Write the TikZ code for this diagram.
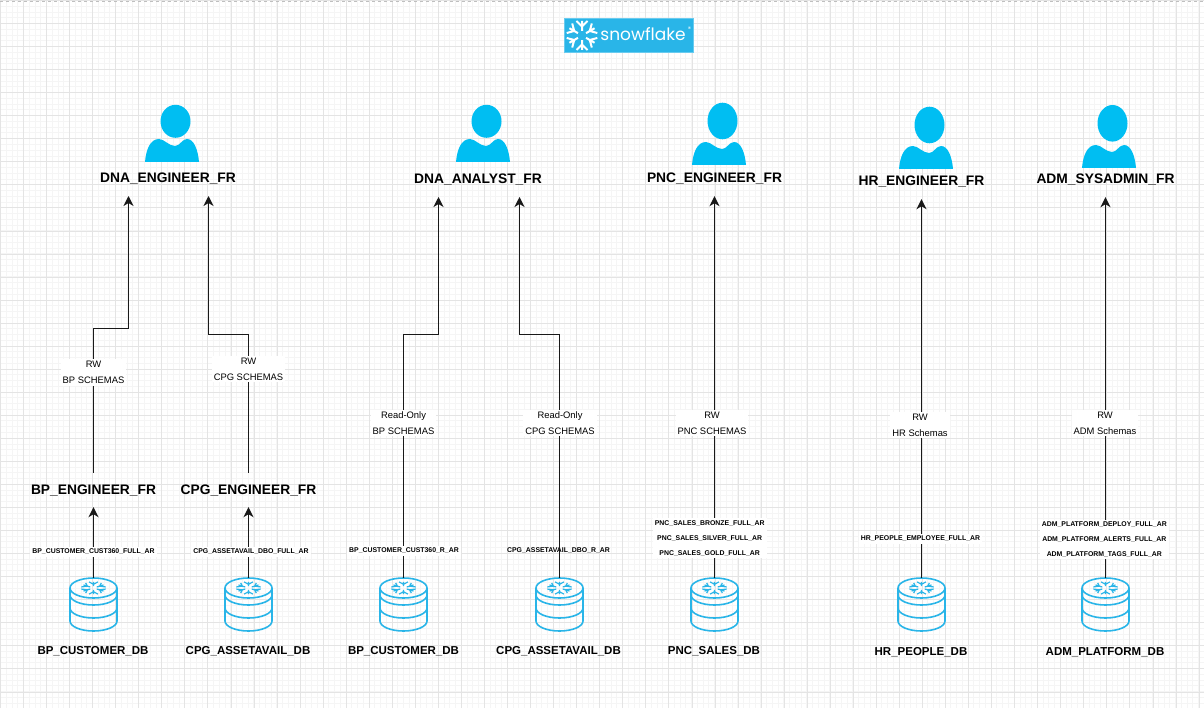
\documentclass[tikz,border=0pt]{standalone}
\usepackage{fontspec}
\setmainfont{Liberation Sans}
\newfontfamily\logofont{Poppins}
\usetikzlibrary{arrows.meta}
\definecolor{iconBlue}{HTML}{00BEF2}
\definecolor{snowBlue}{HTML}{29B5E8}
\definecolor{gridMinor}{HTML}{F5F5F5}
\definecolor{gridMajor}{HTML}{E4E4E4}
\tikzset{
  rolelabel/.style={inner sep=0pt, minimum height=36pt, text height=10pt, text depth=0pt, font=\bfseries\fontsize{13.8}{16}\selectfont},
  dblabel/.style={inner sep=0pt, text height=9pt, text depth=0pt, font=\bfseries\fontsize{11.5}{14}\selectfont},
  arlabel/.style={inner sep=2pt, fill=white, align=center, font=\bfseries\fontsize{6.9}{15}\selectfont},
  schemalabel/.style={inner sep=2pt, fill=white, align=center, font=\fontsize{9.4}{16}\selectfont},
  link/.style={line width=1.5pt, draw=black!90},
  linkarrow/.style={link, -{Stealth[length=10pt,width=10pt,inset=3pt]}},
  pics/flakeicon/.style={code={
    \foreach \a in {30,90,...,330} {
      \draw[rotate=\a, #1] (0.32,0) -- (1,0) (1,0.38) -- (0.62,0) -- (1,-0.38);
    }
  }},
  pics/dbicon/.style={code={
    \node[inner sep=0pt, minimum width=48pt, minimum height=53pt] (-box) at (0,26.5) {};
    \begin{scope}[draw=snowBlue, line width=1.6pt]
      \draw (0,10) ellipse [x radius=23.5, y radius=10];
      \draw (-23.5,10) -- (-23.5,43) arc [start angle=180, end angle=360, x radius=23.5, y radius=-10] -- (23.5,10);
      \draw (-23.5,17) arc [start angle=180, end angle=360, x radius=23.5, y radius=-10];
      \draw (-23.5,30) arc [start angle=180, end angle=360, x radius=23.5, y radius=-10];
    \end{scope}
    \pic[yscale=0.55, xscale=1.05] at (0,10) {flakeicon={snowBlue, scale=11, line width=1.2pt}};
  }},
  pics/personicon/.style 2 args={code={
    \fill[iconBlue] (3.5,-#2) ellipse [x radius=15, y radius=#1];
    \fill[iconBlue] (-27,0) .. controls (-26,-12) and (-22,-23) .. (-13,-23)
      .. controls (-8,-23) and (-3,-16) .. (3,-16)
      .. controls (8,-16) and (10,-23) .. (15,-23)
      .. controls (22,-23) and (26,-12) .. (27,0) -- cycle;
  }}
}
\begin{document}
\begin{tikzpicture}[x=1pt, y=-1pt]
\useasboundingbox (0,0) rectangle (1204,708);
\fill[white] (0,0) rectangle (1204,708);
% grid, snapped to whole pixels
\foreach \i in {0,...,209} {
  \pgfmathsetmacro\p{round(5.76*\i)+0.5}
  \draw[gridMinor, line width=1pt] (\p,0) -- (\p,708);
  \ifnum\i<123 \draw[gridMinor, line width=1pt] (0,\p) -- (1204,\p); \fi
}
\foreach \i in {0,...,52} {
  \pgfmathsetmacro\p{round(23.05*\i)+0.5}
  \draw[gridMajor, line width=1pt] (\p,0) -- (\p,708);
  \ifnum\i<31 \draw[gridMajor, line width=1pt] (0,\p) -- (1204,\p); \fi
}
\draw[black!25, line width=0.7pt, dashed] (0,1) -- (1204,1);

% logo
\node[fill=snowBlue, draw=snowBlue!70, line width=0.5pt, minimum width=129pt, minimum height=34pt, inner sep=0pt] (logo) at (628.5,35.5) {};
\pic at (582,35.5) {flakeicon={white, scale=14.5, line width=2pt}};
\node[inner sep=0pt, text=white, font=\logofont\fontsize{17}{20}\selectfont] (logotext) at (643,34.5) {snowflake};
\node[inner sep=0pt, text=white, font=\logofont\fontsize{6.5}{7}\selectfont] (logomark) at (689.5,29.5) {®};

% people
\pic at (172,162) {personicon={16.5}{40.7}};
\pic at (483,162) {personicon={16.5}{40.7}};
\pic at (719,165) {personicon={18.3}{44}};
\pic at (926,169) {personicon={18.3}{44}};
\pic at (1109,168) {personicon={18.3}{44.7}};

\node[rolelabel] (dnaeng) at (168,178) {DNA\_ENGINEER\_FR};
\node[rolelabel] (dnaana) at (478,179) {DNA\_ANALYST\_FR};
\node[rolelabel] (pnceng) at (714.5,178) {PNC\_ENGINEER\_FR};
\node[rolelabel] (hreng) at (921.5,181) {HR\_ENGINEER\_FR};
\node[rolelabel] (admsys) at (1105.5,179) {ADM\_SYSADMIN\_FR};
\node[rolelabel] (bpeng) at (93.5,489) {BP\_ENGINEER\_FR};
\node[rolelabel] (cpgeng) at (248.5,489) {CPG\_ENGINEER\_FR};

% databases
\pic (bpdb) at (93.5,578) {dbicon};
\pic (cpgdb) at (248.5,578) {dbicon};
\pic (bpdbro) at (403.5,578) {dbicon};
\pic (cpgdbro) at (559.5,578) {dbicon};
\pic (pncdb) at (714.5,578) {dbicon};
\pic (hrdb) at (921.5,578) {dbicon};
\pic (admdb) at (1105.5,578) {dbicon};

\node[dblabel] (bpdbname) at (93,650) {BP\_CUSTOMER\_DB};
\node[dblabel] (cpgdbname) at (248,650) {CPG\_ASSETAVAIL\_DB};
\node[dblabel] (bpdbroname) at (403.5,650) {BP\_CUSTOMER\_DB};
\node[dblabel] (cpgdbroname) at (558.5,650) {CPG\_ASSETAVAIL\_DB};
\node[dblabel] (pncdbname) at (714,650) {PNC\_SALES\_DB};
\node[dblabel] (hrdbname) at (921,651) {HR\_PEOPLE\_DB};
\node[dblabel] (admdbname) at (1105,651) {ADM\_PLATFORM\_DB};

% this one sits under its line
\node[arlabel, fill=none] (cpgro) at (558.5,550.5) {CPG\_ASSETAVAIL\_DBO\_R\_AR};

\coordinate (dnain1) at (128.5,196);
\coordinate (dnain2) at (208.5,196);
\coordinate (anain1) at (438.5,197);
\coordinate (anain2) at (519.5,197);
\coordinate (bend1) at (128.5,328.5);
\coordinate (bend2) at (208.5,334.5);
\coordinate (bend3) at (438.5,334.5);
\coordinate (bend4) at (519.5,334.5);

\draw[linkarrow] (bpdb-box.north) -- (bpeng.south);
\draw[linkarrow] (cpgdb-box.north) -- (cpgeng.south);
\draw[linkarrow, shorten <=-2pt] (bpeng.north) |- (bend1) -- (dnain1);
\draw[linkarrow, shorten <=-2pt] (cpgeng.north) |- (bend2) -- (dnain2);
\draw[linkarrow] (bpdbro-box.north) |- (bend3) -- (anain1);
\draw[linkarrow] (cpgdbro-box.north) |- (bend4) -- (anain2);
\draw[linkarrow] (pncdb-box.north) -- (pnceng.south);
\draw[linkarrow] (hrdb-box.north) -- (hreng.south);
\draw[linkarrow] (admdb-box.north) -- (admsys.south);

\node[arlabel] (bpar) at (93.5,552) {BP\_CUSTOMER\_CUST360\_FULL\_AR};
\node[arlabel] (cpgar) at (251,552) {CPG\_ASSETAVAIL\_DBO\_FULL\_AR};
\node[arlabel] (bpro) at (404,551) {BP\_CUSTOMER\_CUST360\_R\_AR};
\node[arlabel] (pncar) at (709.7,538.3) {PNC\_SALES\_BRONZE\_FULL\_AR\\PNC\_SALES\_SILVER\_FULL\_AR\\PNC\_SALES\_GOLD\_FULL\_AR};
\node[arlabel] (hrar) at (920.5,539) {HR\_PEOPLE\_EMPLOYEE\_FULL\_AR};
\node[arlabel] (admar) at (1104.3,539.5) {ADM\_PLATFORM\_DEPLOY\_FULL\_AR\\ADM\_PLATFORM\_ALERTS\_FULL\_AR\\ADM\_PLATFORM\_TAGS\_FULL\_AR};

\node[schemalabel] (bpschema) at (93.5,372.5) {RW\\BP SCHEMAS};
\node[schemalabel] (cpgschema) at (248.5,369) {RW\\CPG SCHEMAS};
\node[schemalabel] (bproschema) at (403.5,423) {Read-Only\\BP SCHEMAS};
\node[schemalabel] (cpgroschema) at (560,423) {Read-Only\\CPG SCHEMAS};
\node[schemalabel] (pncschema) at (712,423) {RW\\PNC SCHEMAS};
\node[schemalabel] (hrschema) at (920,425) {RW\\HR Schemas};
\node[schemalabel] (admschema) at (1105,423) {RW\\ADM Schemas};
\end{tikzpicture}
\end{document}
